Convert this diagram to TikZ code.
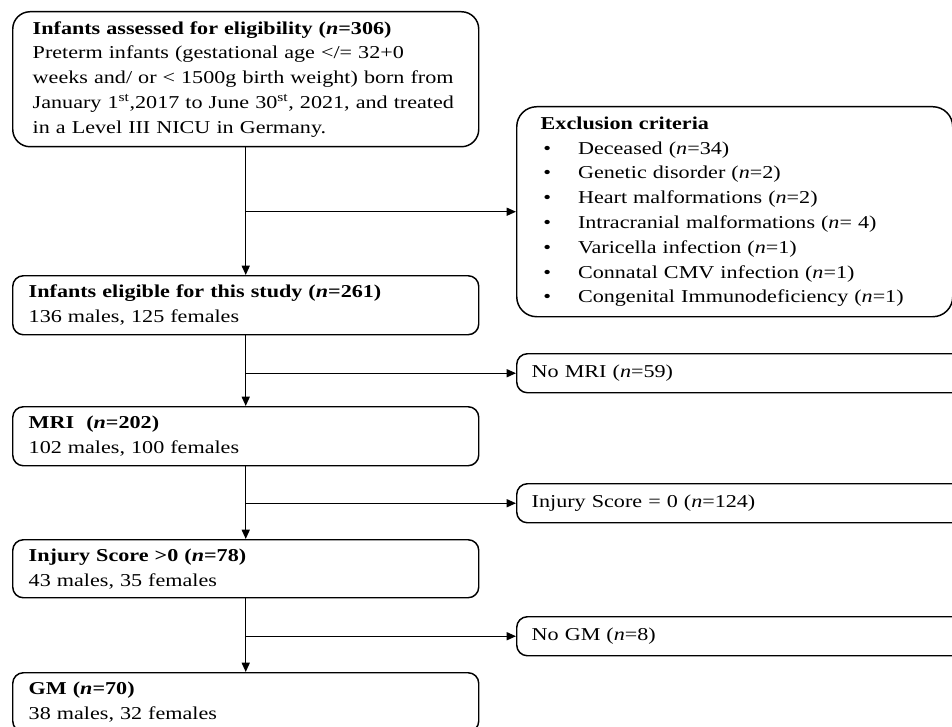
\documentclass[tikz,border=0pt]{standalone}
\usepackage{fontspec}
\setmainfont{Liberation Serif}[FakeStretch=1.22]
\usetikzlibrary{arrows.meta,calc}
\begin{document}
\begin{tikzpicture}[x=0.75pt,y=-0.75pt,
  box/.style={draw, line width=1.1pt, rounded corners=8pt, anchor=north west, align=left,
    inner xsep=12pt, inner ysep=0pt, minimum width=349.5pt, text width=325.5pt,
    minimum height=44.25pt, font=\fontsize{13.6pt}{18.6pt}\selectfont},
  sidebox/.style={box, inner xsep=11.25pt, minimum width=360pt, text width=337.5pt, minimum height=29.25pt},
  arr/.style={line width=1.1pt, -{Triangle[length=7pt,width=6pt]}}]
\useasboundingbox (0,0) rectangle (952,727);
\clip (0,0) rectangle (952,727);
\node[box, inner xsep=15pt, text width=319.5pt, minimum height=101.25pt, rounded corners=13pt] (top) at (12,11)
  {\textbf{Infants assessed for eligibility (\textit{n}=306)}\\
   Preterm infants (gestational age </= 32+0\\
   weeks and/ or < 1500g birth weight) born from\\
   January 1\textsuperscript{st},2017 to June 30\textsuperscript{st}, 2021, and treated\\
   in a Level III NICU in Germany.};
\node[box, inner xsep=18pt, minimum width=327pt, text width=291pt, minimum height=157.5pt, rounded corners=15pt] (excl) at (516,106)
  {\textbf{Exclusion criteria}\\
   \hspace*{2pt}\makebox[26pt][l]{\textbullet}Deceased (\textit{n}=34)\\
   \hspace*{2pt}\makebox[26pt][l]{\textbullet}Genetic disorder (\textit{n}=2)\\
   \hspace*{2pt}\makebox[26pt][l]{\textbullet}Heart malformations (\textit{n}=2)\\
   \hspace*{2pt}\makebox[26pt][l]{\textbullet}Intracranial malformations (\textit{n}= 4)\\
   \hspace*{2pt}\makebox[26pt][l]{\textbullet}Varicella infection (\textit{n}=1)\\
   \hspace*{2pt}\makebox[26pt][l]{\textbullet}Connatal CMV infection (\textit{n}=1)\\
   \hspace*{2pt}\makebox[26pt][l]{\textbullet}Congenital Immunodeficiency (\textit{n}=1)};
\node[box] (elig) at (12,275)
  {\textbf{Infants eligible for this study (\textit{n}=261)}\\ 136 males, 125 females};
\node[box] (mri) at (12,406)
  {\textbf{MRI\ \ (\textit{n}=202)}\\ 102 males, 100 females};
\node[box, minimum height=43.5pt] (inj) at (12,539)
  {\textbf{Injury Score >0 (\textit{n}=78)}\\ 43 males, 35 females};
\node[box] (gm) at (12,672)
  {\textbf{GM (\textit{n}=70)}\\ 38 males, 32 females};
\node[sidebox] (nomri) at (516,353) {No MRI (\textit{n}=59)};
\node[sidebox] (inj0) at (516,483) {Injury Score = 0 (\textit{n}=124)};
\node[sidebox] (nogm) at (516,616) {No GM (\textit{n}=8)};
\draw[arr] (top.south) -- (elig.north);
\draw[arr] (top.south |- excl.west) -- (excl.west);
\draw[arr] (elig.south) -- (mri.north);
\draw[arr] (elig.south |- nomri.west) -- (nomri.west);
\draw[arr] (mri.south) -- (inj.north);
\draw[arr] (mri.south |- inj0.west) -- (inj0.west);
\draw[arr] (inj.south) -- (gm.north);
\draw[arr] (inj.south |- nogm.west) -- (nogm.west);
\end{tikzpicture}
\end{document}
